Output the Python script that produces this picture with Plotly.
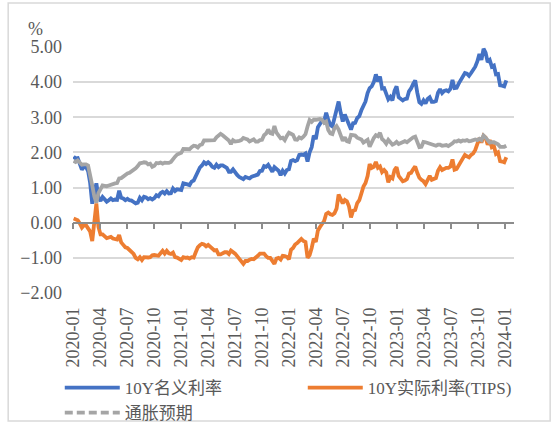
import pandas as pd
import plotly.graph_objects as go

# Weekly (Friday) observations, starting 2020-01-03
nominal_2020 = [1.88, 1.83, 1.84, 1.70, 1.51, 1.59, 1.59, 1.47, 1.13, 0.54,
                0.85, 1.12, 0.72, 0.62, 0.73, 0.65, 0.60, 0.64, 0.69, 0.64,
                0.66, 0.65, 0.91, 0.71, 0.69, 0.64, 0.68, 0.64, 0.63, 0.59,
                0.55, 0.57, 0.71, 0.64, 0.74, 0.72, 0.67, 0.70, 0.66, 0.70,
                0.78, 0.75, 0.84, 0.88, 0.83, 0.90, 0.83, 0.84, 0.97, 0.90,
                0.95, 0.94]
nominal_2021 = [0.93, 1.12, 1.09, 1.09, 1.07, 1.17, 1.20, 1.34, 1.44, 1.57,
                1.63, 1.72, 1.67, 1.72, 1.67, 1.59, 1.56, 1.65, 1.58, 1.63,
                1.63, 1.59, 1.56, 1.45, 1.45, 1.52, 1.43, 1.36, 1.30, 1.28,
                1.24, 1.30, 1.28, 1.26, 1.31, 1.33, 1.34, 1.37, 1.47, 1.48,
                1.61, 1.59, 1.65, 1.55, 1.45, 1.58, 1.54, 1.48, 1.35, 1.48,
                1.40, 1.50, 1.52]
nominal_2022 = [1.76, 1.78, 1.75, 1.78, 1.93, 1.94, 1.93, 1.97, 1.74, 2.00,
                2.15, 2.48, 2.38, 2.72, 2.83, 2.90, 2.89, 3.13, 2.93, 2.78,
                2.74, 2.96, 3.15, 3.45, 3.13, 2.88, 3.08, 2.93, 2.77, 2.65,
                2.83, 2.84, 2.98, 3.03, 3.20, 3.31, 3.45, 3.69, 3.83, 3.88,
                4.00, 4.22, 4.02, 4.16, 3.82, 3.83, 3.68, 3.51, 3.58, 3.48,
                3.75, 3.88]
nominal_2023 = [3.57, 3.51, 3.48, 3.52, 3.53, 3.74, 3.82, 3.95, 4.05, 3.70,
                3.43, 3.38, 3.48, 3.39, 3.52, 3.57, 3.44, 3.44, 3.46, 3.70,
                3.80, 3.69, 3.75, 3.77, 3.74, 3.81, 4.06, 3.83, 3.84, 3.96,
                4.05, 4.16, 4.26, 4.24, 4.18, 4.26, 4.33, 4.44, 4.59, 4.80,
                4.63, 4.95, 4.84, 4.57, 4.63, 4.44, 4.47, 4.22, 4.23, 3.91,
                3.90, 3.88, 4.05]

tips_2020 = [0.12, 0.10, 0.07, -0.02, -0.14, -0.07, -0.07, -0.16, -0.25, -0.52,
             0.10, 0.55, -0.12, -0.33, -0.33, -0.40, -0.44, -0.42, -0.40, -0.45,
             -0.46, -0.48, -0.35, -0.56, -0.63, -0.70, -0.72, -0.78, -0.83, -0.89,
             -1.00, -1.04, -0.98, -1.06, -0.98, -0.99, -0.99, -0.98, -0.93, -0.92,
             -0.92, -0.94, -0.87, -0.80, -0.88, -0.80, -0.87, -0.89, -0.85, -0.98,
             -0.99, -1.03]
tips_2021 = [-1.06, -0.98, -1.00, -0.99, -1.02, -0.98, -0.99, -0.84, -0.70, -0.64,
             -0.60, -0.62, -0.67, -0.63, -0.68, -0.75, -0.79, -0.78, -0.90, -0.90,
             -0.86, -0.84, -0.84, -0.89, -0.79, -0.83, -0.88, -0.95, -1.03, -1.07,
             -1.17, -1.09, -1.09, -1.05, -1.03, -1.04, -0.97, -0.94, -0.88, -0.88,
             -0.88, -0.95, -1.00, -1.00, -1.08, -1.17, -1.02, -1.00, -1.05, -0.94,
             -0.95, -0.97, -1.04]
tips_2022 = [-0.77, -0.72, -0.62, -0.58, -0.50, -0.46, -0.52, -0.55, -1.00, -0.92,
             -0.72, -0.45, -0.55, -0.22, -0.12, -0.03, 0.05, 0.25, 0.29, 0.24,
             0.22, 0.27, 0.40, 0.80, 0.66, 0.55, 0.65, 0.61, 0.47, 0.15,
             0.34, 0.36, 0.56, 0.64, 0.83, 1.03, 1.13, 1.33, 1.67, 1.56,
             1.59, 1.73, 1.56, 1.60, 1.44, 1.50, 1.43, 1.15, 1.30, 1.26,
             1.50, 1.58]
tips_2023 = [1.33, 1.25, 1.18, 1.20, 1.24, 1.40, 1.42, 1.52, 1.60, 1.42,
             1.28, 1.22, 1.18, 1.10, 1.25, 1.33, 1.22, 1.24, 1.27, 1.48,
             1.58, 1.50, 1.54, 1.56, 1.56, 1.60, 1.80, 1.51, 1.53, 1.62,
             1.74, 1.82, 1.93, 1.89, 1.86, 1.93, 1.97, 2.07, 2.24, 2.41,
             2.28, 2.47, 2.42, 2.22, 2.35, 2.15, 2.18, 1.96, 2.00, 1.75,
             1.74, 1.72, 1.86]

infl_2020 = [1.76, 1.73, 1.77, 1.72, 1.65, 1.66, 1.66, 1.63, 1.38, 1.06,
             0.75, 0.57, 0.84, 0.95, 1.06, 1.05, 1.04, 1.06, 1.09, 1.09,
             1.12, 1.13, 1.26, 1.27, 1.32, 1.34, 1.40, 1.42, 1.46, 1.48,
             1.55, 1.61, 1.69, 1.70, 1.72, 1.71, 1.66, 1.68, 1.59, 1.62,
             1.70, 1.69, 1.71, 1.68, 1.71, 1.70, 1.70, 1.73, 1.82, 1.88,
             1.94, 1.97]
infl_2021 = [1.99, 2.10, 2.09, 2.08, 2.09, 2.15, 2.19, 2.18, 2.14, 2.21,
             2.23, 2.34, 2.34, 2.35, 2.35, 2.34, 2.35, 2.43, 2.48, 2.53,
             2.49, 2.43, 2.40, 2.34, 2.24, 2.35, 2.31, 2.31, 2.33, 2.35,
             2.41, 2.39, 2.37, 2.31, 2.34, 2.37, 2.31, 2.31, 2.35, 2.36,
             2.49, 2.54, 2.65, 2.55, 2.53, 2.75, 2.56, 2.48, 2.40, 2.42,
             2.35, 2.47, 2.56]
infl_2022 = [2.53, 2.50, 2.37, 2.36, 2.43, 2.40, 2.45, 2.52, 2.74, 2.92,
             2.87, 2.93, 2.93, 2.94, 2.95, 2.93, 2.84, 2.88, 2.64, 2.54,
             2.52, 2.69, 2.75, 2.65, 2.47, 2.33, 2.43, 2.32, 2.30, 2.50,
             2.49, 2.48, 2.42, 2.39, 2.37, 2.28, 2.32, 2.36, 2.16, 2.32,
             2.41, 2.49, 2.46, 2.56, 2.38, 2.33, 2.25, 2.36, 2.28, 2.22,
             2.25, 2.30]
infl_2023 = [2.24, 2.26, 2.30, 2.32, 2.29, 2.34, 2.40, 2.43, 2.45, 2.28,
             2.15, 2.16, 2.30, 2.29, 2.27, 2.24, 2.22, 2.20, 2.19, 2.22,
             2.22, 2.19, 2.21, 2.21, 2.18, 2.21, 2.26, 2.32, 2.31, 2.34,
             2.31, 2.34, 2.33, 2.35, 2.32, 2.33, 2.36, 2.37, 2.35, 2.39,
             2.35, 2.48, 2.42, 2.35, 2.28, 2.29, 2.29, 2.26, 2.23, 2.16,
             2.16, 2.16, 2.19]

nominal = nominal_2020 + nominal_2021 + nominal_2022 + nominal_2023
tips = tips_2020 + tips_2021 + tips_2022 + tips_2023
infl = infl_2020 + infl_2021 + infl_2022 + infl_2023
dates = pd.date_range("2020-01-03", periods=len(nominal), freq="7D")

tick_labels = ["2020-01", "2020-04", "2020-07", "2020-10", "2021-01", "2021-04",
               "2021-07", "2021-10", "2022-01", "2022-04", "2022-07", "2022-10",
               "2023-01", "2023-04", "2023-07", "2023-10", "2024-01"]
tick_vals = [t + "-01" for t in tick_labels]

names = ["10Y名义利率", "10Y实际利率(TIPS)", "通胀预期"]
colors = ["#4472C4", "#ED7D31", "#A5A5A5"]

FONT = "Liberation Serif, Times New Roman, Noto Sans CJK SC, serif"
TXT = "#595959"
LW = 3.8

fig = go.Figure()
fig.add_trace(go.Scatter(x=dates, y=nominal, mode="lines", name=names[0],
                         line=dict(color=colors[0], width=LW)))
fig.add_trace(go.Scatter(x=dates, y=tips[:len(dates)], mode="lines", name=names[1],
                         line=dict(color=colors[1], width=LW)))
fig.add_trace(go.Scatter(x=dates, y=infl[:len(dates)], mode="lines", name=names[2],
                         showlegend=False, line=dict(color=colors[2], width=LW)))
fig.add_trace(go.Scatter(x=[None], y=[None], mode="lines", name=names[2],
                         line=dict(color=colors[2], width=LW, dash="8px,4px")))
# invisible helper trace for the zero-line axis with tick marks
fig.add_trace(go.Scatter(x=[dates[0]], y=[None], xaxis="x2", yaxis="y",
                         showlegend=False, hoverinfo="skip"))

xrange = ["2020-01-01", "2024-01-31"]

fig.update_layout(
    width=553, height=425,
    margin=dict(l=73, r=39, t=47, b=132, autoexpand=False),
    paper_bgcolor="white", plot_bgcolor="white",
    font=dict(family=FONT, size=18, color=TXT),
    showlegend=True,
    legend=dict(orientation="h", x=-0.03, xanchor="left", y=-0.313, yanchor="top",
                entrywidth=173, entrywidthmode="pixels", itemwidth=55,
                font=dict(family=FONT, size=17, color=TXT),
                tracegroupgap=0, bgcolor="rgba(0,0,0,0)"),
    xaxis=dict(range=xrange, tickmode="array", tickvals=tick_vals, ticktext=tick_labels,
               tickangle=-90, showgrid=False, showline=False, zeroline=False, ticks="",
               ticklabelstandoff=10,
               tickfont=dict(family=FONT, size=18, color=TXT)),
    xaxis2=dict(range=xrange, overlaying="x", anchor="free", position=2/7,
                tickmode="array", tickvals=tick_vals, showticklabels=False,
                showgrid=False, zeroline=False, showline=True, linecolor="#8c8c8c",
                linewidth=1.5, ticks="outside", ticklen=6, tickcolor="#8c8c8c",
                tickwidth=1.5),
    yaxis=dict(range=[-2, 5], dtick=1, tickformat=".2f", showgrid=True,
               gridcolor="#d9d9d9", gridwidth=1.5, zeroline=False, showline=False,
               ticks="", ticklabelstandoff=10,
               tickfont=dict(family=FONT, size=18, color=TXT)),
    annotations=[dict(text="%", xref="paper", yref="paper", x=-0.084, y=1.073,
                      xanchor="center", yanchor="middle", showarrow=False,
                      font=dict(family=FONT, size=18, color=TXT))],
    shapes=[dict(type="rect", xref="paper", yref="paper", x0=-0.147, x1=1.082,
                 y0=-0.52, y1=1.179, line=dict(color="#d9d9d9", width=1.5),
                 fillcolor="rgba(0,0,0,0)", layer="below")],
)

fig.write_html("out.html", config={"displayModeBar": False},
               post_script="document.body.style.margin='0';")
